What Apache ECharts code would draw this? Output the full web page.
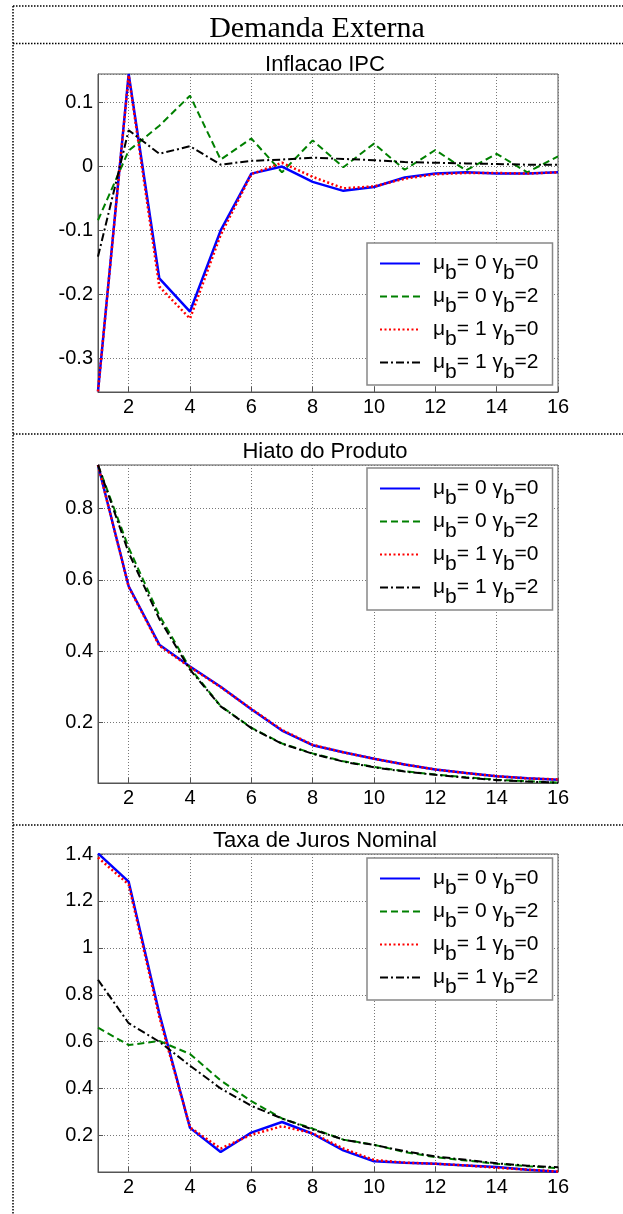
<!DOCTYPE html>
<html>
<head>
<meta charset="utf-8">
<title>Demanda Externa</title>
<script src="https://cdn.jsdelivr.net/npm/echarts@6/dist/echarts.min.js"></script>
<style>
  html, body { margin: 0; padding: 0; background: #fff; }
  #chart { width: 623px; height: 1214px; }
</style>
</head>
<body>
<div id="chart"></div>
<script>
// horizonte (trimestres)
const periods = [1, 2, 3, 4, 5, 6, 7, 8, 9, 10, 11, 12, 13, 14, 15, 16]

// legenda: mu_b e gamma_b de cada curva
const seriesNames = ['μb= 0 γb=0', 'μb= 0 γb=2', 'μb= 1 γb=0', 'μb= 1 γb=2']
const legendMu = ['0', '0', '1', '1']
const legendGamma = ['0', '2', '0', '2']

// Inflacao IPC
const inflMu0G0 = [-0.352, 0.145, -0.175, -0.227, -0.100, -0.011, 0.000, -0.024, -0.038, -0.032, -0.017, -0.011, -0.009, -0.011, -0.011, -0.009]
const inflMu0G2 = [-0.084, 0.025, 0.064, 0.111, 0.011, 0.044, -0.009, 0.041, -0.001, 0.036, -0.005, 0.026, -0.006, 0.020, -0.009, 0.016]
const inflMu1G0 = [-0.352, 0.143, -0.188, -0.238, -0.107, -0.012, 0.006, -0.016, -0.034, -0.031, -0.019, -0.012, -0.010, -0.010, -0.011, -0.009]
const inflMu1G2 = [-0.141, 0.057, 0.020, 0.032, 0.003, 0.009, 0.011, 0.014, 0.012, 0.010, 0.007, 0.006, 0.005, 0.004, 0.003, 0.003]

// Hiato do Produto
const hiatoMu0G0 = [0.922, 0.582, 0.418, 0.357, 0.300, 0.237, 0.177, 0.136, 0.116, 0.098, 0.082, 0.068, 0.058, 0.049, 0.043, 0.039]
const hiatoMu0G2 = [0.922, 0.690, 0.500, 0.352, 0.246, 0.185, 0.141, 0.113, 0.091, 0.075, 0.063, 0.054, 0.046, 0.039, 0.035, 0.031]
const hiatoMu1G0 = [0.922, 0.580, 0.415, 0.355, 0.299, 0.238, 0.179, 0.137, 0.116, 0.098, 0.082, 0.068, 0.058, 0.049, 0.043, 0.040]
const hiatoMu1G2 = [0.922, 0.676, 0.490, 0.348, 0.245, 0.184, 0.140, 0.112, 0.090, 0.074, 0.062, 0.053, 0.045, 0.038, 0.034, 0.031]

// Taxa de Juros Nominal
const jurosMu0G0 = [1.403, 1.282, 0.720, 0.233, 0.130, 0.213, 0.258, 0.208, 0.137, 0.091, 0.084, 0.080, 0.073, 0.066, 0.055, 0.046]
const jurosMu0G2 = [0.660, 0.586, 0.603, 0.548, 0.435, 0.347, 0.273, 0.230, 0.183, 0.161, 0.130, 0.108, 0.094, 0.080, 0.070, 0.061]
const jurosMu1G0 = [1.385, 1.270, 0.705, 0.235, 0.145, 0.204, 0.240, 0.210, 0.145, 0.096, 0.085, 0.080, 0.073, 0.063, 0.055, 0.047]
const jurosMu1G2 = [0.864, 0.679, 0.600, 0.498, 0.401, 0.327, 0.273, 0.226, 0.183, 0.160, 0.134, 0.111, 0.097, 0.082, 0.072, 0.065]

const panelTitles = ['Inflacao IPC', 'Hiato do Produto', 'Taxa de Juros Nominal']

const sans = 'Liberation Sans, Arial, Helvetica, sans-serif'
const lineStyles = [
  { color: '#0000ff', width: 2.5, type: 'solid' },
  { color: '#008000', width: 2, type: [7, 4] },
  { color: '#ff0000', width: 2.5, type: [2, 2.5] },
  { color: '#000000', width: 2, type: [8, 3, 2, 3] }
]

const panels = [
  { data: [inflMu0G0, inflMu0G2, inflMu1G0, inflMu1G2], top: 74, min: -0.353, max: 0.145, split: 5, showMax: false, titleTop: 49, legendTop: 243 },
  { data: [hiatoMu0G0, hiatoMu0G2, hiatoMu1G0, hiatoMu1G2], top: 465, min: 0.03, max: 0.922, split: 5, showMax: false, titleTop: 436, legendTop: 468 },
  { data: [jurosMu0G0, jurosMu0G2, jurosMu1G0, jurosMu1G2], top: 854, min: 0.045, max: 1.4, split: 7, showMax: true, titleTop: 825, legendTop: 858 }
]

const chart = echarts.init(document.getElementById('chart'))

const grids = []
const xAxes = []
const yAxes = []
const legends = []
const series = []
const titles = [{
  text: 'Demanda Externa',
  left: 312,
  top: 9,
  textAlign: 'center',
  textStyle: { fontFamily: 'Liberation Serif, Times New Roman, serif', fontSize: 30, fontWeight: 'normal', color: '#000' }
}]

panels.forEach((p, g) => {
  grids.push({ left: 98, right: 65, top: p.top, height: 318, show: true, borderColor: '#555', borderWidth: 1, backgroundColor: '#fff' })
  titles.push({
    text: panelTitles[g],
    left: 320,
    top: p.titleTop,
    textAlign: 'center',
    textStyle: { fontFamily: sans, fontSize: 22, fontWeight: 'normal', color: '#000' }
  })
  xAxes.push({
    type: 'value',
    gridIndex: g,
    min: 1,
    max: 16,
    splitNumber: 7,
    axisLine: { onZero: false, lineStyle: { color: '#555', width: 1 } },
    axisTick: { inside: true, length: 5, lineStyle: { color: '#555' } },
    axisLabel: { color: '#000', fontFamily: sans, fontSize: 20, margin: 5, showMinLabel: false },
    splitLine: { show: true, lineStyle: { color: '#777', width: 1, type: [1, 2] } }
  })
  yAxes.push({
    type: 'value',
    gridIndex: g,
    min: p.min,
    max: p.max,
    splitNumber: p.split,
    axisLine: { show: true, onZero: false, lineStyle: { color: '#555', width: 1 } },
    axisTick: { show: true, inside: true, length: 5, lineStyle: { color: '#555' } },
    axisLabel: { color: '#000', fontFamily: sans, fontSize: 20, margin: 5, showMinLabel: false, showMaxLabel: p.showMax },
    splitLine: { show: true, lineStyle: { color: '#777', width: 1, type: [1, 2] } }
  })
  legends.push({
    data: seriesNames,
    orient: 'vertical',
    left: 367,
    top: p.legendTop,
    itemWidth: 40,
    itemHeight: 12,
    itemGap: -8,
    padding: [0, 14, 2, 12],
    backgroundColor: '#fff',
    borderColor: '#888',
    borderWidth: 1.5,
    borderRadius: 0,
    selectedMode: false,
    itemStyle: { opacity: 0 },
    formatter: name => {
      const k = seriesNames.indexOf(name)
      return '{t|μ}{s|b}{t|= ' + legendMu[k] + ' γ}{s|b}{t|=' + legendGamma[k] + '}'
    },
    textStyle: {
      padding: [0, 0, 0, 8],
      rich: {
        t: { fontFamily: sans, fontSize: 21, lineHeight: 22, color: '#000', verticalAlign: 'middle' },
        s: { fontFamily: sans, fontSize: 21, lineHeight: 22, color: '#000', verticalAlign: 'middle', padding: [20, 0, 0, 0] }
      }
    }
  })
  p.data.forEach((vals, k) => {
    series.push({
      name: seriesNames[k],
      type: 'line',
      xAxisIndex: g,
      yAxisIndex: g,
      symbol: 'none',
      data: periods.map((t, i) => [t, vals[i]]),
      lineStyle: lineStyles[k],
      itemStyle: { color: lineStyles[k].color },
      z: 2 + k
    })
  })
})

// bordas pontilhadas da tabela
const dotted = { stroke: '#000', lineWidth: 1.5, lineDash: [1.5, 1.5] }
const borderLines = [
  [13, 6, 623, 6], [13, 6, 13, 1214], [13, 43.5, 623, 43.5], [13, 434, 623, 434], [13, 825, 623, 825]
]

chart.setOption({
  animation: false,
  backgroundColor: '#fff',
  title: titles,
  grid: grids,
  xAxis: xAxes,
  yAxis: yAxes,
  legend: legends,
  series: series,
  graphic: borderLines.map(l => ({
    type: 'line',
    shape: { x1: l[0], y1: l[1], x2: l[2], y2: l[3] },
    style: dotted,
    silent: true
  }))
})
</script>
</body>
</html>
